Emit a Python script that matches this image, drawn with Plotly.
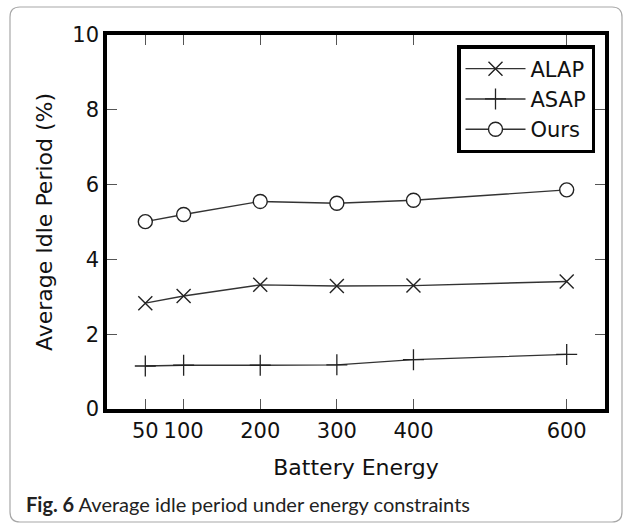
import plotly.graph_objects as go

energy = [50, 100, 200, 300, 400, 600]
alap = [2.83, 3.02, 3.32, 3.29, 3.30, 3.41]
asap = [1.15, 1.17, 1.17, 1.18, 1.32, 1.46]
ours = [5.01, 5.20, 5.55, 5.50, 5.58, 5.86]
x_ticks = [50, 100, 200, 300, 400, 600]
y_ticks = [0, 2, 4, 6, 8, 10]

FONT = "DejaVu Sans"
LINE = "#333333"

fig = go.Figure()
fig.add_trace(go.Scatter(x=energy, y=alap, name="ALAP", mode="lines+markers",
                         line=dict(color=LINE, width=1.4),
                         marker=dict(symbol="x-thin-open", size=14, color="#222",
                                     line=dict(width=1.4, color="#222"))))
fig.add_trace(go.Scatter(x=energy, y=asap, name="ASAP", mode="lines+markers",
                         line=dict(color=LINE, width=1.4),
                         marker=dict(symbol="cross-thin-open", size=15, color="#222",
                                     line=dict(width=1.3, color="#222"))))
fig.add_trace(go.Scatter(x=energy, y=ours, name="Ours", mode="lines+markers",
                         line=dict(color=LINE, width=1.4),
                         marker=dict(symbol="circle", size=14, color="white",
                                     line=dict(width=1.4, color="#222"))))

L, R, T, B = 107, 605, 35, 409
W, H = R - L, B - T

def px(x):
    return (x - L) / W

def py(y):
    return (B - y) / H

x0, x1, y0, y1, r = px(10), px(622), py(7), py(522), 10
rx, ry = r / W, r / H
path = (f"M {x0+rx},{y0} L {x1-rx},{y0} Q {x1},{y0} {x1},{y0-ry} "
        f"L {x1},{y1+ry} Q {x1},{y1} {x1-rx},{y1} L {x0+rx},{y1} "
        f"Q {x0},{y1} {x0},{y1+ry} L {x0},{y0-ry} Q {x0},{y0} {x0+rx},{y0} Z")
fig.add_shape(type="path", path=path, xref="paper", yref="paper",
              line=dict(color="#a8a8a8", width=1.2), layer="below")

fig.add_annotation(x=px(24), y=py(504), xref="paper", yref="paper",
                   xanchor="left", yanchor="middle", showarrow=False,
                   text="<b>Fig. 6</b> Average idle period under energy constraints",
                   font=dict(family="Lato", size=20, color="#222"))

axis_common = dict(showgrid=False, zeroline=False, showline=True, linecolor="black",
                   linewidth=3.5, mirror="allticks", ticks="inside", ticklen=10,
                   tickwidth=1, tickcolor="#555", automargin=False,
                   tickfont=dict(family=FONT, size=21, color="#111"))

fig.update_layout(
    width=630, height=524,
    margin=dict(l=L, r=630 - R, t=T, b=524 - B, autoexpand=False),
    paper_bgcolor="white", plot_bgcolor="white",
    showlegend=True,
    legend=dict(x=px(595), y=py(45), xanchor="right", yanchor="top",
                bgcolor="white", bordercolor="black", borderwidth=3.5,
                font=dict(family=FONT, size=21, color="#111"),
                itemwidth=60, tracegroupgap=0),
    xaxis=dict(range=[0, 650], tickvals=x_ticks, ticktext=[str(v) for v in x_ticks],
               title=dict(text="Battery Energy", font=dict(family=FONT, size=22, color="#111"),
                          standoff=19),
               **axis_common),
    yaxis=dict(range=[0, 10], tickvals=y_ticks, ticktext=[str(v) for v in y_ticks],
               title=dict(text="Average Idle Period (%)", font=dict(family=FONT, size=22, color="#111"),
                          standoff=15),
               **axis_common),
)

fig.write_html("out.html", config={"displayModeBar": False},
               post_script="document.body.style.margin='0';document.body.style.overflow='hidden';")
